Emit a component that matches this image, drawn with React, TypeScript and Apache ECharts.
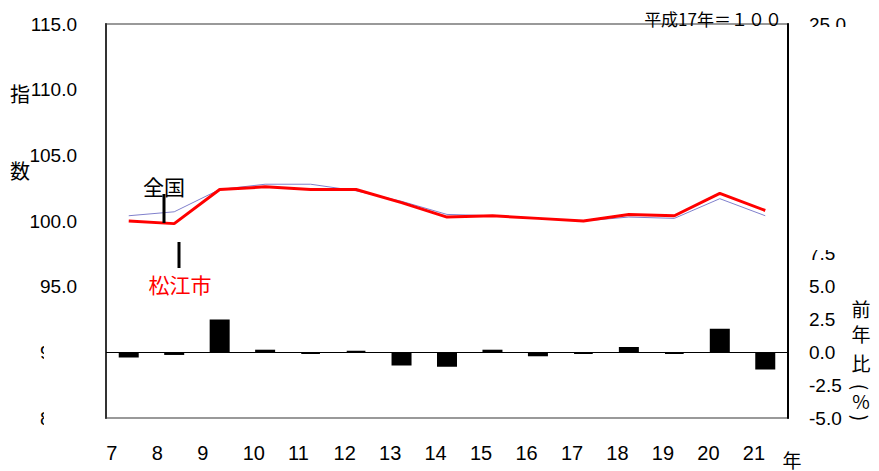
import React, { useEffect, useRef } from "react";
import * as echarts from "echarts";

const years = ["7", "8", "9", "10", "11", "12", "13", "14", "15", "16", "17", "18", "19", "20", "21"];
const matsueIndex = [100.0, 99.8, 102.4, 102.6, 102.4, 102.4, 101.4, 100.3, 100.4, 100.2, 100.0, 100.5, 100.4, 102.1, 100.8];
const nationalIndex = [100.4, 100.7, 102.4, 102.8, 102.8, 102.3, 101.5, 100.5, 100.4, 100.2, 100.0, 100.3, 100.2, 101.7, 100.4];
const yoyChange = [-0.4, -0.2, 2.5, 0.2, -0.1, 0.1, -1.0, -1.1, 0.2, -0.3, -0.1, 0.4, -0.1, 1.8, -1.3];

const LATIN = "'Liberation Sans', Arial, sans-serif";
const CJK = "'Noto Sans CJK JP', 'Noto Sans', sans-serif";

export default function App() {
  const ref = useRef<HTMLDivElement>(null);
  useEffect(() => {
    if (!ref.current) return;
    const chart = echarts.init(ref.current, null, { renderer: "svg" });
    const txt = (text: string, x: number, y: number, size: number, color = "#000", extra: any = {}) => ({
      type: "text",
      x,
      y,
      z: 110,
      ...extra,
      style: { text, fill: color, fontSize: size, fontFamily: CJK, align: "center", verticalAlign: "middle" },
    });
    chart.setOption({
      animation: false,
      backgroundColor: "#fff",
      grid: { left: 106, right: 91, top: 24, bottom: 53, show: true, borderColor: "#999", borderWidth: 2, backgroundColor: "transparent" },
      xAxis: {
        type: "category",
        data: years,
        boundaryGap: true,
        axisLine: { show: false },
        axisTick: { show: false },
        axisLabel: {
          margin: 25,
          formatter: "{a|{value}}",
          rich: { a: { width: 45, align: "left", fontSize: 20, fontFamily: LATIN, color: "#000" } },
        },
      },
      yAxis: [
        {
          type: "value",
          position: "left",
          min: 85,
          max: 115,
          interval: 5,
          axisLine: { show: true, lineStyle: { color: "#333", width: 2 } },
          axisTick: { show: false },
          splitLine: { show: false },
          axisLabel: { margin: 29, fontSize: 19, fontFamily: LATIN, color: "#000", formatter: (v: number) => v.toFixed(1) },
        },
        {
          type: "value",
          position: "right",
          min: -5,
          max: 25,
          interval: 2.5,
          axisLine: { show: true, lineStyle: { color: "#000", width: 2 } },
          axisTick: { show: false },
          splitLine: { show: false },
          axisLabel: { margin: 21, fontSize: 19, fontFamily: LATIN, color: "#000", formatter: (v: number) => v.toFixed(1) },
        },
      ],
      series: [
        {
          name: "前年比",
          type: "bar",
          yAxisIndex: 1,
          data: yoyChange,
          barWidth: 20,
          itemStyle: { color: "#000", borderColor: "#000", borderWidth: 2 },
          markLine: {
            silent: true,
            symbol: "none",
            label: { show: false },
            lineStyle: { color: "#000", width: 1, type: "solid" },
            data: [{ yAxis: 0 }],
          },
        },
        {
          name: "全国",
          type: "line",
          data: nationalIndex,
          symbol: "none",
          lineStyle: { color: "#8080cc", width: 1 },
        },
        {
          name: "松江市",
          type: "line",
          data: matsueIndex,
          symbol: "none",
          lineStyle: { color: "#ff0000", width: 3 },
        },
      ],
      graphic: [
        { type: "rect", z: 100, shape: { x: 44, y: 338, width: 57, height: 100 }, style: { fill: "#fff" } },
        { type: "rect", z: 100, shape: { x: 800, y: 27, width: 79, height: 223 }, style: { fill: "#fff" } },
        txt("指", 20, 93, 20),
        txt("数", 20, 170, 20),
        txt("全国", 164, 186, 21),
        { type: "line", z: 110, shape: { x1: 164, y1: 194, x2: 164, y2: 223 }, style: { stroke: "#000", lineWidth: 3 } },
        txt("松江市", 180, 284, 21, "#ff0000"),
        { type: "line", z: 110, shape: { x1: 179, y1: 242, x2: 179, y2: 268 }, style: { stroke: "#000", lineWidth: 3 } },
        {
          type: "text",
          x: 782,
          y: 18,
          z: 110,
          style: { text: "平成17年＝１００", fill: "#000", fontSize: 17, fontFamily: CJK, align: "right", verticalAlign: "middle" },
        },
        txt("前", 861, 308, 19),
        txt("年", 861, 333, 19),
        txt("比", 861, 362, 19),
        txt("(", 861, 387, 19, "#000", { rotation: -Math.PI / 2 }),
        txt("%", 861, 400, 19),
        txt(")", 861, 418, 19, "#000", { rotation: -Math.PI / 2 }),
        txt("年", 792, 459, 19),
      ],
    });
    return () => chart.dispose();
  }, []);
  return <div ref={ref} style={{ position: "fixed", left: 0, top: 0, width: 879, height: 471 }} />;
}
